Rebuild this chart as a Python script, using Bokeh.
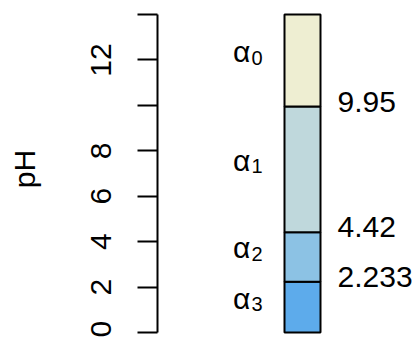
from bokeh.plotting import figure
from bokeh.models import Range1d, FixedTicker, ColumnDataSource
from bokeh.core.properties import value
from bokeh.embed import file_html
from bokeh.resources import INLINE

# data
bounds = [0.0, 2.233, 4.42, 9.95, 14.0]
species = ["3", "2", "1", "0"]
colors = ["#5DABEB", "#8CC2E4", "#BFD8DC", "#EEEED2"]
boundary_labels = ["2.233", "4.42", "9.95"]
boundary_values = [2.233, 4.42, 9.95]
ticks = [0, 2, 4, 6, 8, 10, 12, 14]
tick_labels = ["0", "2", "4", "6", "8", "", "12", ""]

FONT = "Liberation Sans"
FS = "30px"

p = figure(width=420, height=337, output_backend="svg", toolbar_location=None,
           x_range=Range1d(-4.028, 3.278), y_range=Range1d(-0.22, 14.62),
           min_border_left=157, min_border_right=0, min_border_top=0, min_border_bottom=0)
p.xaxis.visible = False
p.xgrid.visible = False
p.ygrid.visible = False
p.outline_line_color = None

ax = p.yaxis[0]
ax.bounds = (0, 14)
ax.ticker = FixedTicker(ticks=ticks)
ax.major_label_overrides = {t: l for t, l in zip(ticks, tick_labels)}
ax.minor_tick_line_color = None
ax.major_tick_out = 20
ax.major_tick_in = 0
ax.axis_line_width = 2
ax.major_tick_line_width = 2
ax.major_label_orientation = "vertical"
ax.major_label_text_font = FONT
ax.major_label_text_font_size = FS
ax.major_label_text_color = "black"
ax.major_label_standoff = 26
ax.axis_label = "pH"
ax.axis_label_text_font = FONT
ax.axis_label_text_font_size = FS
ax.axis_label_text_font_style = "normal"
ax.axis_label_text_color = "black"
ax.axis_label_standoff = 48

src = ColumnDataSource(dict(bottom=bounds[:-1], top=bounds[1:], color=colors,
                            mid=[(a + b) / 2 for a, b in zip(bounds[:-1], bounds[1:])],
                            sub=species))
p.quad(left=-0.5, right=0.5, bottom="bottom", top="top", fill_color="color",
       line_color="black", line_width=2, source=src)

p.text(x=-1.45, y="mid", text=value("α"), source=src, text_font=value(FONT),
       text_font_size=FS, text_align="right", text_baseline="alphabetic", y_offset=-9)
p.text(x=-1.42, y="mid", text="sub", source=src, text_font=value(FONT),
       text_font_size="20px", text_align="left", text_baseline="alphabetic", y_offset=-3)

p.text(x=[0.972] * 3, y=boundary_values, text=boundary_labels, text_font=value(FONT),
       text_font_size=FS, text_align="left", text_baseline="alphabetic", y_offset=-5)

open("out.html", "w").write(file_html(p, INLINE))
